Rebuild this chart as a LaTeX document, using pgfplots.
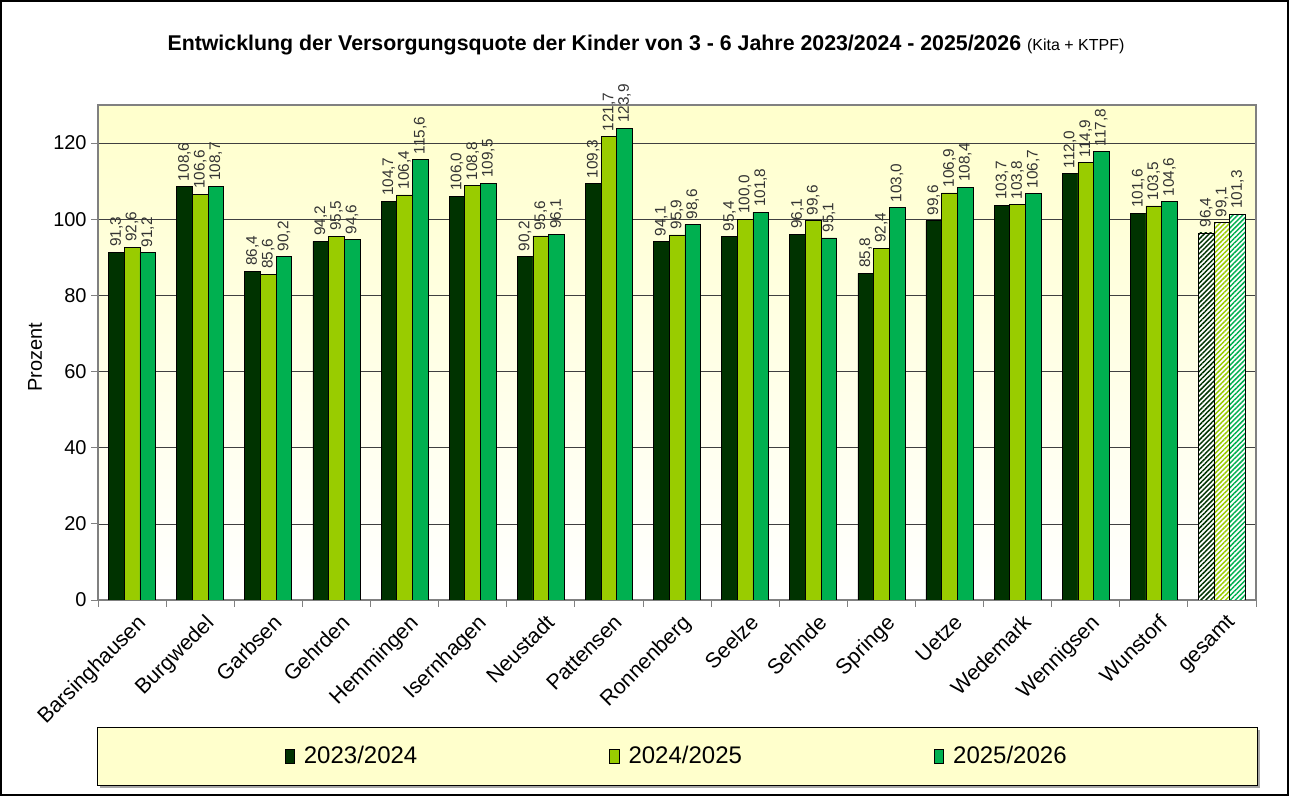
\documentclass[border=0pt]{standalone}
\usepackage{fontspec}
\setmainfont{Liberation Sans}
\usepackage{pgfplots}
\pgfplotsset{compat=1.18}
\usetikzlibrary{patterns.meta}
\definecolor{cA}{HTML}{003300}
\definecolor{cB}{HTML}{99CC00}
\definecolor{cC}{HTML}{00B050}
\definecolor{bgY}{HTML}{FFFFCC}

\begin{document}
\begin{tikzpicture}
\begin{scope}[x=0.75pt,y=0.75pt]
\useasboundingbox (-98,-196) rectangle (1192,600);
\draw[black, line width=0.9pt] (-97,-195) rectangle (1190,599);
\fill[gray!70] (2,-188) rectangle (1162,-130);
\draw[black, fill=bgY, line width=0.6pt] (-1,-185) rectangle (1159,-127);
\node at (548,555) {\fontsize{16}{19}\selectfont\bfseries Entwicklung der Versorgungsquote der Kinder von 3 - 6 Jahre 2023/2024 - 2025/2026 {\mdseries\fontsize{12}{14}\selectfont (Kita + KTPF)}};
\node[rotate=90] at (-63,243) {\fontsize{15}{18}\selectfont Prozent};
\end{scope}
\begin{axis}[
 at={(0,0)}, anchor=south west,
 scale only axis, width=868.5pt, height=371.25pt,
 xmin=-0.5, xmax=16.5, ymin=0, ymax=130,
 ytick={0,20,...,120},
 xtick={0,...,16},
 xticklabels={Barsinghausen,Burgwedel,Garbsen,Gehrden,Hemmingen,Isernhagen,Neustadt,Pattensen,Ronnenberg,Seelze,Sehnde,Springe,Uetze,Wedemark,Wennigsen,Wunstorf,gesamt},
 minor xtick={-0.5,0.5,...,16.5},
 major x tick style={draw=none},
 tick align=outside, xtick pos=bottom, ytick pos=left,
 major tick length=5pt, minor tick length=5pt,
 tick style={gray, line width=0.6pt},
 axis line style={gray, line width=0.8pt},
 ymajorgrids, grid style={black!75, line width=0.5pt},
 axis background/.style={top color=bgY, bottom color=white},
 ybar, bar width=0.23,
 /pgf/number format/assume math mode=true,
 yticklabel style={font=\fontsize{15}{18}\selectfont},
 xticklabel style={rotate=45, anchor=north east, font=\fontsize{16}{19}\selectfont, xshift=2pt, yshift=-2pt},
 nodes near coords={\pgfmathprintnumber[fixed,fixed zerofill,precision=1,use comma,assume math mode=true]{\pgfplotspointmeta}},
 nodes near coords style={rotate=90, anchor=west, font=\fontsize{11.5}{13}\selectfont, text=black!80, xshift=0.5pt},
 legend columns=3,
 legend style={at={(0.5,-0.315)}, anchor=center, draw=none, fill=none, font=\fontsize{18}{21}\selectfont, /tikz/every even column/.append style={column sep=142pt}, /tikz/every odd column/.append style={column sep=5pt}},
 legend image code/.code={\draw[#1, draw=black, line width=0.4pt] (0pt,-5.5pt) rectangle (7pt,5pt);},
]
\addplot[fill=cA, draw=black, line width=0.5pt, bar shift=-0.23] coordinates {
(0,91.3) (1,108.6) (2,86.4) (3,94.2) (4,104.7) (5,106.0) (6,90.2) (7,109.3) (8,94.1) (9,95.4) (10,96.1) (11,85.8) (12,99.6) (13,103.7) (14,112.0) (15,101.6)};
\addlegendentry{2023/2024}
\addplot[fill=cB, draw=black, line width=0.5pt, bar shift=0] coordinates {
(0,92.6) (1,106.6) (2,85.6) (3,95.5) (4,106.4) (5,108.8) (6,95.6) (7,121.7) (8,95.9) (9,100.0) (10,99.6) (11,92.4) (12,106.9) (13,103.8) (14,114.9) (15,103.5)};
\addlegendentry{2024/2025}
\addplot[fill=cC, draw=black, line width=0.5pt, bar shift=0.23] coordinates {
(0,91.2) (1,108.7) (2,90.2) (3,94.6) (4,115.6) (5,109.5) (6,96.1) (7,123.9) (8,98.6) (9,101.8) (10,95.1) (11,103.0) (12,108.4) (13,106.7) (14,117.8) (15,104.6)};
\addlegendentry{2025/2026}
\addplot[forget plot, fill=white, draw=black, line width=0.5pt, bar shift=-0.23, postaction={pattern={Lines[angle=45,distance=2.6pt,line width=1.1pt]}, pattern color=cA}] coordinates {(16,96.4)};
\addplot[forget plot, fill=white, draw=black, line width=0.5pt, bar shift=0, postaction={pattern={Lines[angle=45,distance=2.6pt,line width=1.1pt]}, pattern color=cB}] coordinates {(16,99.1)};
\addplot[forget plot, fill=white, draw=black, line width=0.5pt, bar shift=0.23, postaction={pattern={Lines[angle=45,distance=2.6pt,line width=1.1pt]}, pattern color=cC}] coordinates {(16,101.3)};
\end{axis}
\end{tikzpicture}
\end{document}
